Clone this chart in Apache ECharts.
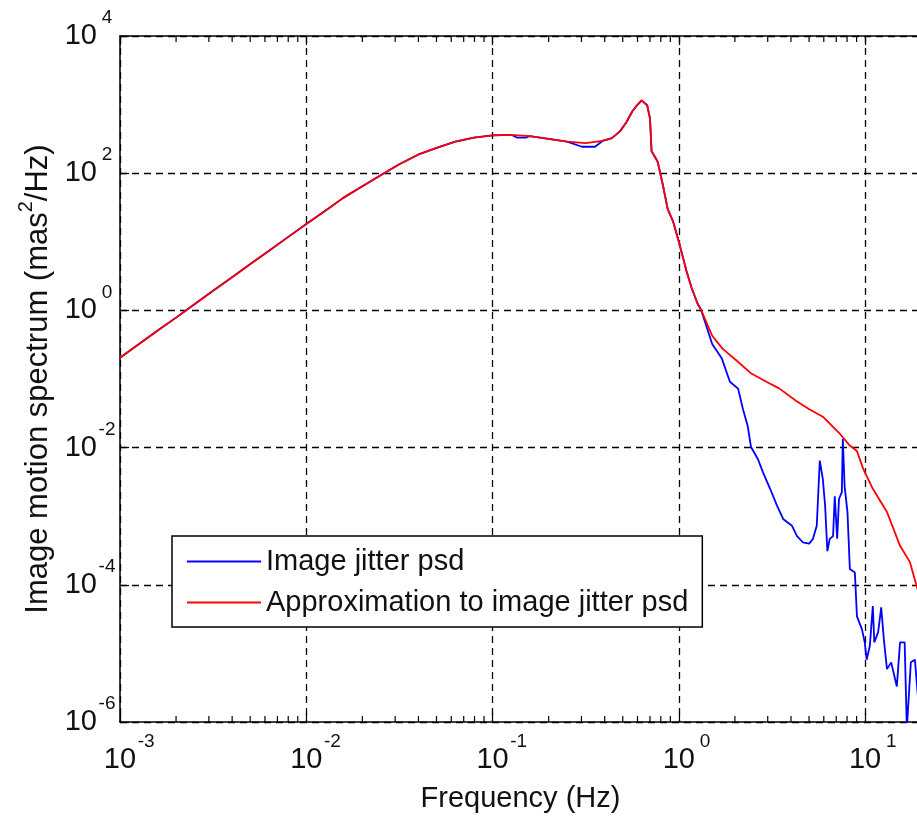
<!DOCTYPE html>
<html>
<head>
<meta charset="utf-8">
<script src="https://cdn.jsdelivr.net/npm/echarts@6/dist/echarts.min.js"></script>
<style>
html, body { margin: 0; padding: 0; background: #fff; }
#psd { width: 917px; height: 822px; }
</style>
</head>
<body>
<div id="psd"></div>
<script>
// values (Hz, mas^2/Hz)
var blueFreq = [0.001, 0.00126, 0.00158, 0.002, 0.00251, 0.00316, 0.00398, 0.00501, 0.00631, 0.00794,
    0.01, 0.0126, 0.0158, 0.02, 0.0251, 0.0316, 0.0398, 0.0501, 0.0631, 0.0794,
    0.1, 0.126, 0.135, 0.151, 0.158, 0.2, 0.251, 0.302, 0.355, 0.389, 0.437, 0.483, 0.525, 0.562, 0.596,
    0.631, 0.676, 0.7, 0.714, 0.769, 0.822, 0.871, 0.933, 1.0, 1.05, 1.1, 1.17, 1.26, 1.32,
    1.51, 1.7, 1.88, 2.08, 2.21, 2.34, 2.44, 2.66, 2.82, 3.09, 3.37, 3.63, 4.05, 4.31, 4.63, 5.01,
    5.25, 5.5, 5.71, 5.93, 6.1, 6.27, 6.46, 6.73, 6.87, 7.08, 7.24, 7.5, 7.59, 7.76, 8.04, 8.28,
    8.81, 9.04, 9.62, 9.95, 10.2, 10.6, 11.0, 11.2, 11.75, 12.2, 12.6, 13.1, 13.8, 14.8, 15.4,
    16.3, 16.75, 17.6, 18.5, 19.3, 20.0];
var bluePsd = [0.204, 0.32, 0.501, 0.785, 1.23, 1.93, 3.02, 4.73, 7.41, 11.6,
    18.2, 28.2, 43.7, 64.6, 93.3, 135, 186, 234, 288, 331,
    355, 363, 331, 331, 347, 316, 288, 243, 243, 295, 324, 407, 562, 794, 977,
    1150, 977, 631, 209, 148, 66.1, 30.2, 19.5, 10.0, 6.03, 3.72, 2.14, 1.26, 1.0,
    0.324, 0.2, 0.0912, 0.0724, 0.0363, 0.0209, 0.0102, 0.00676, 0.00447, 0.00251, 0.00141, 0.000912, 0.000724, 0.000513, 0.000417, 0.000398,
    0.000468, 0.000724, 0.00646, 0.00347, 0.00141, 0.000309, 0.000468, 0.000513, 0.00195, 0.000468, 0.00178, 0.00224, 0.0135, 0.00275, 0.00115, 0.00017,
    0.000151, 0.0000347, 0.0000224, 0.0000145, 0.0000081, 0.0000129, 0.000049, 0.0000145, 0.0000204, 0.0000468, 0.0000162, 0.0000059, 0.0000074, 0.0000033, 0.0000145,
    0.0000145, 0.0000008, 0.0000074, 0.0000081, 0.000002, 0.000004];

var redFreq = [0.001, 0.00126, 0.00158, 0.002, 0.00251, 0.00316, 0.00398, 0.00501, 0.00631, 0.00794,
    0.01, 0.0126, 0.0158, 0.02, 0.0251, 0.0316, 0.0398, 0.0501, 0.0631, 0.0794,
    0.1, 0.126, 0.158, 0.2, 0.251, 0.316, 0.389, 0.437, 0.483, 0.525, 0.562, 0.596,
    0.631, 0.676, 0.7, 0.714, 0.769, 0.822, 0.871, 0.933, 1.0, 1.05, 1.1, 1.17, 1.26, 1.32,
    1.51, 1.72, 2.04, 2.45, 2.95, 3.47, 4.27, 5.01, 5.93, 7.33, 8.28, 9.04, 9.77, 11.0, 13.1, 15.4, 17.4, 19.0, 20.9];
var redPsd = [0.204, 0.32, 0.501, 0.785, 1.23, 1.93, 3.02, 4.73, 7.41, 11.6,
    18.2, 28.2, 43.7, 64.6, 93.3, 135, 186, 234, 288, 331,
    355, 363, 347, 316, 288, 275, 295, 324, 407, 562, 794, 977,
    1150, 977, 631, 209, 148, 66.1, 30.2, 19.5, 10.0, 6.03, 3.72, 2.14, 1.26, 1.0,
    0.427, 0.275, 0.186, 0.12, 0.0912, 0.0724, 0.0479, 0.0363, 0.0282, 0.0158, 0.0107, 0.0089, 0.0049, 0.00251, 0.00115, 0.00037, 0.000214, 0.0000912, 0.00005];

// axes work in decades (log10), ticks every decade on x and every 2 decades on y
var xDecades = [-3, 1.3];
var yDecades = [-6, 4];
var minorMult = [2, 3, 4, 5, 6, 7, 8, 9];
var minorBase = [-3, -2, -1, 0, 1];

var font = 'Liberation Sans, Arial, sans-serif';

function pairs(xs, ys) {
    var out = [];
    for (var i = 0; i < xs.length; i++) out.push([Math.log10(xs[i]), Math.log10(ys[i])]);
    return out;
}

var minorTicks = [];
minorBase.forEach(function (e) {
    minorMult.forEach(function (m) {
        var v = e + Math.log10(m);
        if (v < xDecades[1]) minorTicks.push([v, yDecades[0]]);
    });
});

function powLabel(v) {
    if (Math.abs(v - Math.round(v)) > 1e-6) return '';
    return '{b|10}{s|' + Math.round(v) + '}';
}

var labelRich = {
    b: { fontSize: 29, fontFamily: font, color: '#111', padding: [0, 0, 0, 20] },
    s: { fontSize: 19, fontFamily: font, color: '#111', width: 20, align: 'left',
         verticalAlign: 'bottom', padding: [0, 0, 36, 0] }
};

var gridDash = { color: '#000', width: 1.3, type: [7, 5] };
var axisLine = { onZero: false, lineStyle: { color: '#000', width: 1.5 } };
var majorTick = { inside: true, length: 9, lineStyle: { color: '#000', width: 1.2 } };

var chartDom = document.getElementById('psd');
var myChart = echarts.init(chartDom);
var option;

option = {
    animation: false,
    backgroundColor: '#fff',
    grid: { left: 120, top: 36, width: 801, height: 686, outerBoundsMode: 'none', containLabel: false },
    legend: {
        data: ['Image jitter psd', 'Approximation to image jitter psd'],
        orient: 'vertical',
        left: 172,
        top: 536,
        padding: [11, 14, 10, 15],
        itemGap: 12,
        itemWidth: 74,
        itemHeight: 2,
        itemTextGap: 8,
        icon: 'rect',
        backgroundColor: '#fff',
        borderColor: '#000',
        borderWidth: 1.5,
        textStyle: { fontSize: 29, fontFamily: font, color: '#111' }
    },
    xAxis: [
        {
            type: 'value',
            min: xDecades[0],
            max: xDecades[1],
            interval: 1,
            name: 'Frequency (Hz)',
            nameLocation: 'middle',
            nameGap: 62,
            nameTextStyle: { fontSize: 29, fontFamily: font, color: '#111' },
            axisLine: axisLine,
            axisTick: majorTick,
            axisLabel: { formatter: powLabel, margin: 10, rich: labelRich },
            splitLine: { show: true, lineStyle: gridDash }
        },
        {
            type: 'value',
            min: xDecades[0],
            max: xDecades[1],
            interval: 1,
            position: 'top',
            axisLine: axisLine,
            axisTick: majorTick,
            axisLabel: { show: false },
            splitLine: { show: false }
        }
    ],
    yAxis: {
        type: 'value',
        min: yDecades[0],
        max: yDecades[1],
        interval: 2,
        name: 'Image motion spectrum (mas{s|2}/Hz)',
        nameLocation: 'middle',
        nameGap: 60,
        nameTextStyle: {
            fontSize: 31, fontFamily: font, color: '#111',
            rich: { s: { fontSize: 20, fontFamily: font, color: '#111', verticalAlign: 'bottom', padding: [0, 0, 24, 0] } }
        },
        axisLine: axisLine,
        axisTick: majorTick,
        axisLabel: { formatter: powLabel, margin: 3, rich: labelRich },
        splitLine: { show: true, lineStyle: gridDash }
    },
    series: [
        {
            name: 'Image jitter psd',
            type: 'line',
            symbol: 'none',
            color: '#0000ff',
            lineStyle: { width: 1.8, color: '#0000ff' },
            data: pairs(blueFreq, bluePsd)
        },
        {
            name: 'Approximation to image jitter psd',
            type: 'line',
            symbol: 'none',
            color: '#ff0000',
            lineStyle: { width: 1.8, color: '#ff0000' },
            data: pairs(redFreq, redPsd)
        },
        {
            // log minor ticks on the bottom and top edges
            type: 'custom',
            silent: true,
            data: minorTicks,
            renderItem: function (params, api) {
                var b = api.coord([api.value(0), yDecades[0]]);
                var t = api.coord([api.value(0), yDecades[1]]);
                var st = { stroke: '#000', lineWidth: 1.2 };
                return {
                    type: 'group',
                    children: [
                        { type: 'line', shape: { x1: b[0], y1: b[1], x2: b[0], y2: b[1] - 6 }, style: st },
                        { type: 'line', shape: { x1: t[0], y1: t[1], x2: t[0], y2: t[1] + 6 }, style: st }
                    ]
                };
            }
        }
    ]
};

option && myChart.setOption(option);
</script>
</body>
</html>
